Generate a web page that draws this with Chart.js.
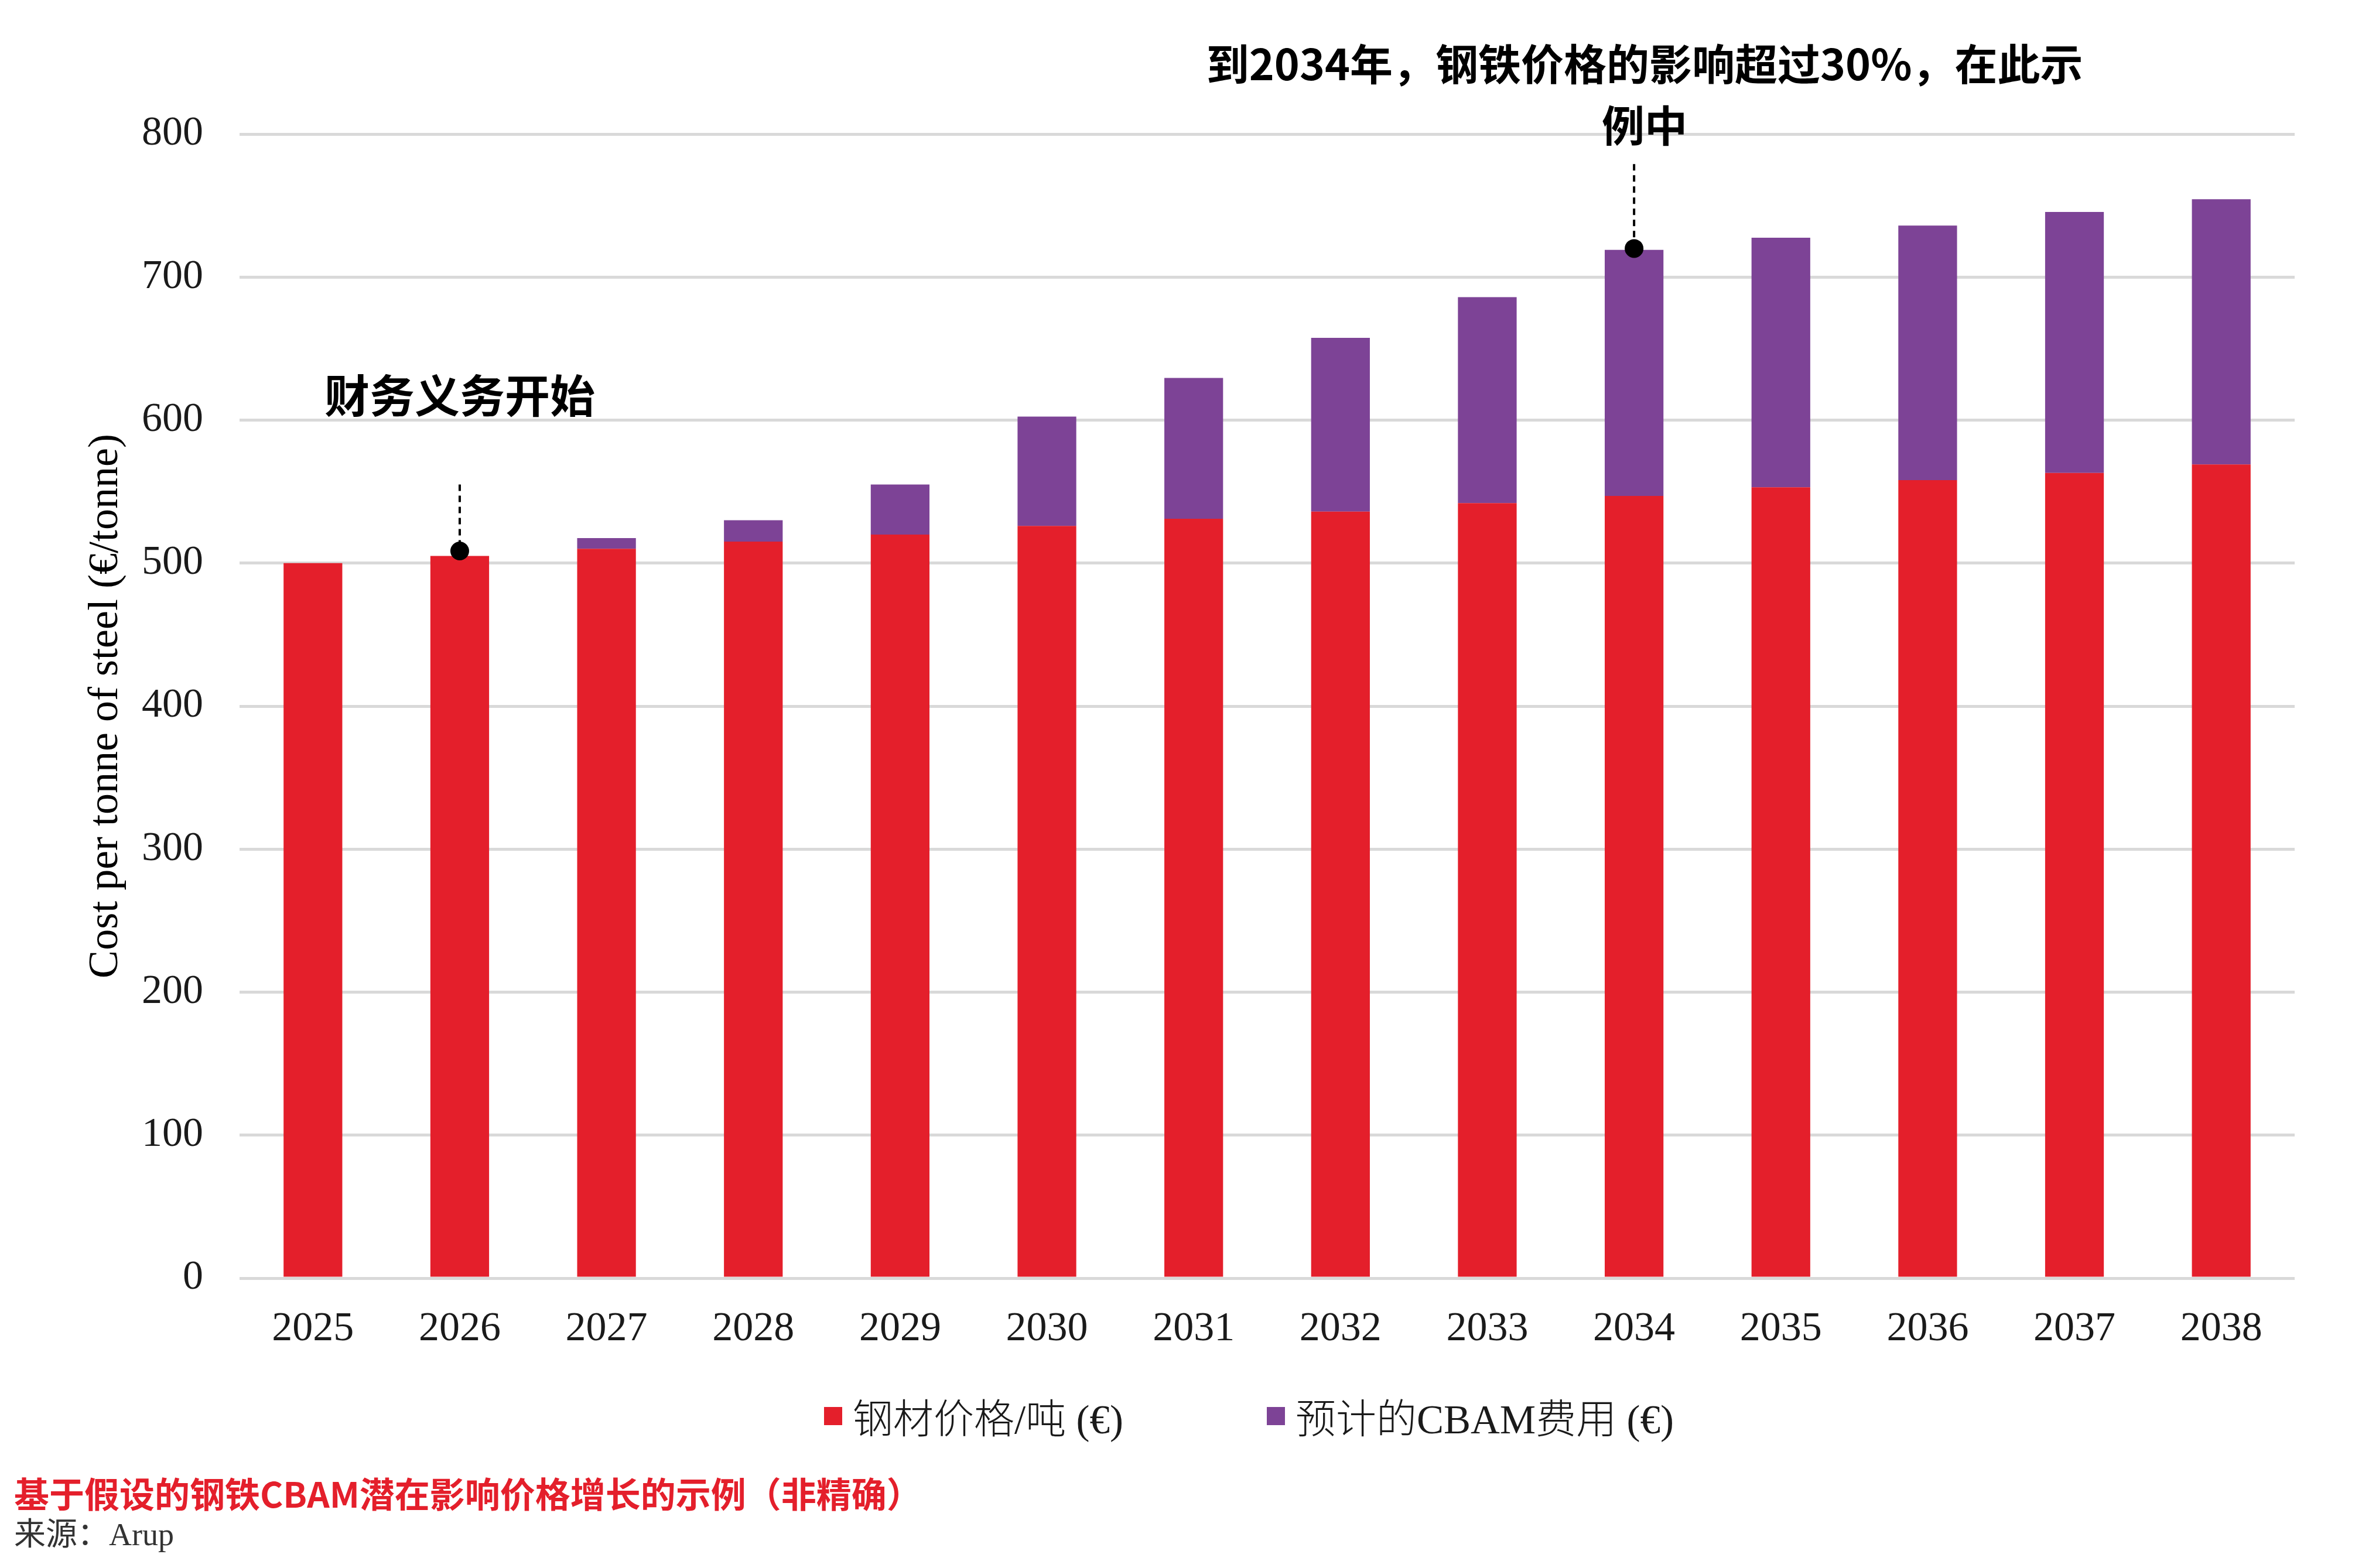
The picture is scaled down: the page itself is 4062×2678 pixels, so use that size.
<!DOCTYPE html>
<html>
<head>
<meta charset="utf-8">
<script src="https://cdn.jsdelivr.net/npm/chart.js@4.4.1/dist/chart.umd.min.js"></script>
<style>
  body { margin: 0; background: #fff; }
  #wrap { position: relative; width: 4062px; height: 2678px; }
  #legend { position: absolute; left: 0; top: 0; }
  .item { position: absolute; display: flex; align-items: center; white-space: nowrap;
    font-family: "Liberation Serif", "Noto Sans CJK SC", serif; font-size: 69px; font-weight: 300; color: #1a1a1a; }
  .box { width: 31px; height: 31px; margin-right: 18px; }
  #note { position: absolute; left: 24px; top: 2519px; font-family: "Noto Sans CJK SC", sans-serif;
    font-weight: 700; font-size: 60px; color: #e41f2b; line-height: 1; }
  #source { position: absolute; left: 24px; top: 2594px; font-family: "Liberation Serif", "Noto Sans CJK SC", serif;
    font-size: 54px; color: #333; line-height: 1; }
</style>
</head>
<body>
<div id="wrap">
  <canvas id="chart" width="4062" height="2678"></canvas>
  <div id="legend"></div>
  <div id="note">基于假设的钢铁CBAM潜在影响价格增长的示例（非精确）</div>
  <div id="source">来源：Arup</div>
</div>
<script>
const years = ["2025", "2026", "2027", "2028", "2029", "2030", "2031", "2032", "2033", "2034", "2035", "2036", "2037", "2038"];
const steelPrice = [500, 505, 510, 515, 520, 526, 531, 536, 542, 547, 553, 558, 563, 569];
const cbamCost = [0, 0, 7.5, 15, 35, 76.5, 98.5, 121.5, 144, 172, 174.5, 178, 182.5, 185.5];
const seriesNames = ["钢材价格/吨 (€)", "预计的CBAM费用 (€)"];
const seriesColors = ["#e41f2b", "#7d4396"];
const yTicks = [0, 100, 200, 300, 400, 500, 600, 700, 800];

// annotation texts: [category index, dot value, dashed line top value]
const noteStart = { idx: 1, dot: 508.5, lineTop: 555, text: ["财务义务开始"], textY: [617] };
const note2034 = { idx: 9, dot: 720, lineTop: 779, text: ["到2034年，钢铁价格的影响超过30%，在此示", "例中"], textY: [849, 806] };

const legendXs = [1407, 2163];
const legendY = 2418;

// draws the dashed pointers, dots and bold notes
const notesPlugin = {
  id: "notes",
  afterDatasetsDraw(chart) {
    const ctx = chart.ctx;
    const x = chart.scales.x;
    const y = chart.scales.y;
    for (const n of [noteStart, note2034]) {
      const px = x.getPixelForValue(n.idx);
      ctx.save();
      ctx.strokeStyle = "#000";
      ctx.lineWidth = 4;
      ctx.setLineDash([11, 8]);
      ctx.beginPath();
      ctx.moveTo(px, y.getPixelForValue(n.lineTop));
      ctx.lineTo(px, y.getPixelForValue(n.dot));
      ctx.stroke();
      ctx.setLineDash([]);
      ctx.fillStyle = "#000";
      ctx.beginPath();
      ctx.arc(px, y.getPixelForValue(n.dot), 16, 0, Math.PI * 2);
      ctx.fill();
      let size = n.text.length > 1 ? 73 : 77;
      ctx.font = "700 " + size + "px 'Noto Sans CJK SC', sans-serif";
      ctx.textAlign = "center";
      ctx.textBaseline = "middle";
      let shift = n.text.length > 1 ? 18 : 0;
      for (let i = 0; i < n.text.length; i++) {
        ctx.fillText(n.text[i], px + shift, y.getPixelForValue(n.textY[i]));
      }
      ctx.restore();
    }
  }
};

const ctx = document.getElementById("chart");
const chart = new Chart(ctx, {
  type: "bar",
  data: {
    labels: years,
    datasets: [
      { label: seriesNames[0], data: steelPrice, backgroundColor: seriesColors[0] },
      { label: seriesNames[1], data: cbamCost, backgroundColor: seriesColors[1] }
    ]
  },
  options: {
    responsive: false,
    animation: false,
    devicePixelRatio: 1,
    barPercentage: 0.4,
    categoryPercentage: 1.0,
    layout: { padding: { top: 229, right: 144, left: 0, bottom: 0 } },
    plugins: {
      legend: { display: false },
      tooltip: { enabled: false }
    },
    scales: {
      x: {
        stacked: true,
        grid: { display: false },
        border: { display: false },
        ticks: {
          color: "#1a1a1a",
          padding: 38,
          font: { family: "'Liberation Serif', serif", size: 70 }
        },
        afterFit(scale) { scale.height = 495; }
      },
      y: {
        stacked: true,
        min: 0,
        max: 800,
        afterBuildTicks(scale) { scale.ticks = yTicks.map(v => ({ value: v })); },
        grid: { color: "#d9d9d9", lineWidth: 5, drawTicks: false },
        border: { display: false },
        ticks: {
          color: "#1a1a1a",
          padding: 62,
          font: { family: "'Liberation Serif', serif", size: 70 }
        },
        title: {
          display: true,
          text: "Cost per tonne of steel (€/tonne)",
          color: "#000",
          padding: { top: 138, bottom: 0 },
          font: { family: "'Liberation Serif', serif", size: 72 }
        },
        afterFit(scale) { scale.width = 409; }
      }
    }
  },
  plugins: [notesPlugin]
});

// legend built from the chart's own datasets
function buildLegend() {
  let legend = document.getElementById("legend");
  chart.data.datasets.forEach((ds, i) => {
    let item = document.createElement("div");
    item.className = "item";
    item.style.left = legendXs[i] + "px";
    item.style.top = (legendY - 40) + "px";
    item.style.height = "80px";
    let box = document.createElement("span");
    box.className = "box";
    box.style.background = ds.backgroundColor;
    item.appendChild(box);
    item.appendChild(document.createTextNode(ds.label));
    legend.appendChild(item);
  });
}
buildLegend();
</script>
</body>
</html>
